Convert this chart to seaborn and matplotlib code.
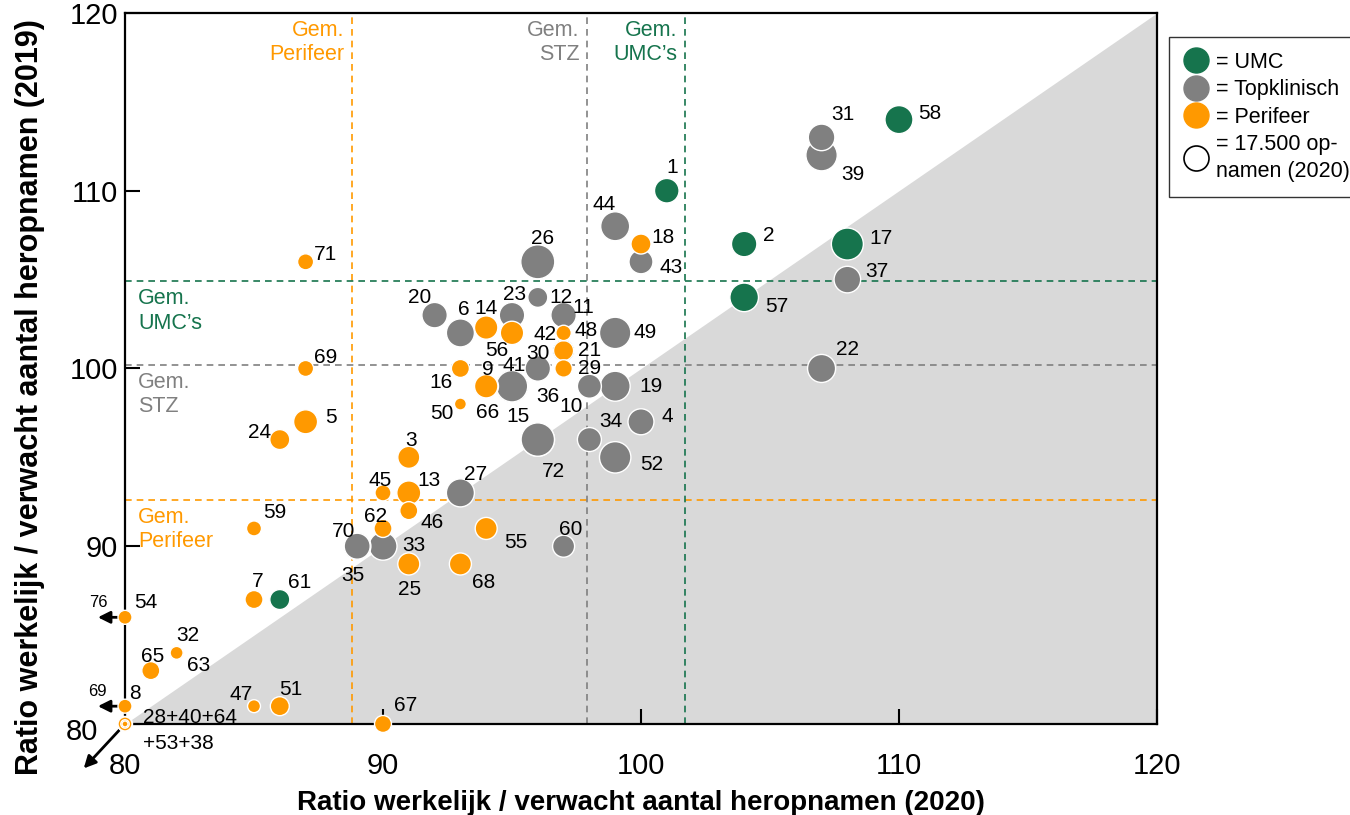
import numpy as np
import pandas as pd
import seaborn as sns
import matplotlib.pyplot as plt
from matplotlib.lines import Line2D
from matplotlib.transforms import ScaledTranslation

# --- data: ratio actual / expected readmissions per hospital ---
hospital = list(range(1, 73))
ratio_2020 = [101, 104, 91, 100, 87, 93, 85, 69, 94, 98,
              97, 96, 91, 94, 96, 93, 108, 100, 99, 92,
              97, 107, 95, 86, 91, 96, 93, 80, 97, 96,
              107, 82, 90, 98, 89, 95, 108, 80, 107, 80,
              95, 97, 100, 99, 90, 91, 85, 97, 99, 93,
              86, 99, 80, 76, 94, 95, 104, 110, 85, 97,
              86, 90, 82, 80, 81, 94, 90, 93, 87, 89,
              87, 96]
ratio_2019 = [110, 107, 95, 97, 97, 102, 87, 81, 99, 99,
              103, 104, 93, 102.3, 96, 100, 107, 107, 99, 103,
              101, 100, 103, 96, 89, 106, 93, 80, 100, 100,
              113, 84, 90, 96, 90, 99, 105, 80, 112, 80,
              99, 101, 106, 108, 93, 92, 81, 102, 102, 98,
              81, 95, 80, 86, 91, 102, 104, 114, 91, 90,
              87, 91, 84, 80, 83, 99, 80, 89, 100, 90,
              106, 96]
soort = ["UMC", "UMC", "Perifeer", "Topklinisch", "Perifeer", "Topklinisch", "Perifeer", "Perifeer", "Perifeer", "Topklinisch",
         "Topklinisch", "Topklinisch", "Perifeer", "Perifeer", "Topklinisch", "Perifeer", "UMC", "Perifeer", "Topklinisch", "Topklinisch",
         "Perifeer", "Topklinisch", "Topklinisch", "Perifeer", "Perifeer", "Topklinisch", "Topklinisch", "Perifeer", "Perifeer", "Topklinisch",
         "Topklinisch", "Perifeer", "Topklinisch", "Topklinisch", "Topklinisch", "Topklinisch", "Topklinisch", "Perifeer", "Topklinisch", "Perifeer",
         "Topklinisch", "UMC", "Topklinisch", "Topklinisch", "Perifeer", "Perifeer", "Perifeer", "Perifeer", "Topklinisch", "Perifeer",
         "Perifeer", "Topklinisch", "Perifeer", "Perifeer", "Perifeer", "Perifeer", "UMC", "UMC", "Perifeer", "Topklinisch",
         "UMC", "Perifeer", "Perifeer", "Perifeer", "Perifeer", "Perifeer", "Perifeer", "Perifeer", "Perifeer", "Topklinisch",
         "Perifeer", "Topklinisch"]
opnamen = [16900, 18100, 13600, 18900, 16100, 22000, 9100, 5500, 15300, 16100,
           18100, 11200, 16100, 15300, 31200, 9100, 28700, 11200, 25200, 18100,
           11200, 22000, 18100, 11200, 13600, 32400, 22000, 6300, 8500, 18100,
           19800, 4700, 22000, 16100, 21000, 30500, 19800, 1000, 27600, 5800,
           27600, 13600, 16100, 23500, 7200, 9100, 4700, 6600, 27600, 4000,
           10100, 27600, 2000, 5500, 13600, 15300, 22900, 22000, 6300, 13600,
           11200, 9100, 5800, 5500, 9100, 16900, 8100, 13600, 7200, 18900,
           7200, 31200]

# group averages (dashed reference lines)
gem_groups = ["Perifeer", "STZ", "UMC's"]
gem_2020 = [88.8, 97.9, 101.7]
gem_2019 = [92.6, 100.2, 104.9]
grouped_ids = [28, 40, 64, 53, 38]
legend_opnamen = 17500

# --- style ---
green, grey, orange = "#16744D", "#808080", "#FF9900"
palette = {"UMC": green, "Topklinisch": grey, "Perifeer": orange}
gem_colors = [orange, grey, green]

# label offsets in pixels (dx, dy), dy upward
label_px = {
    1: (5, 23), 2: (25, 9), 3: (2, 17), 4: (26, 5), 5: (25, 4), 6: (3, 23),
    7: (4, 18), 8: (10, 13), 9: (2, 17), 10: (-18, -20), 11: (20, 8),
    12: (23, 0), 13: (20, 12), 14: (0, 19), 15: (-20, 23), 16: (-19, -14),
    17: (34, 6), 18: (22, 7), 19: (36, 0), 20: (-15, 18), 21: (26, 0),
    22: (26, 19), 23: (3, 21), 24: (-20, 7), 25: (1, -26), 26: (5, 23),
    27: (15, 18), 29: (26, 0), 30: (0, 15), 31: (21, 23), 32: (11, 17),
    33: (31, 1), 34: (21, 18), 35: (-4, -29), 36: (36, -10), 37: (30, 8),
    39: (31, -19), 41: (2, 21), 42: (-19, 16), 43: (30, -6), 44: (-11, 22),
    45: (-3, 12), 46: (23, -12), 47: (-13, 12), 48: (23, 2), 49: (30, 0),
    50: (-19, -9), 51: (11, 17), 52: (37, -7), 54: (21, 15), 55: (30, -14),
    56: (-15, -18), 57: (33, -9), 58: (31, 6), 59: (21, 16), 60: (7, 17),
    61: (20, 17), 62: (-7, 12), 63: (22, -13), 65: (2, 14), 66: (1, -26),
    67: (23, 18), 68: (23, -19), 69: (20, 11), 70: (-14, 15), 71: (20, 7),
    72: (16, -32),
}

df = pd.DataFrame({"id": hospital, "x": ratio_2020, "y": ratio_2019,
                   "soort": soort, "opnamen": opnamen})
df["xp"] = df["x"].clip(lower=80)
df["yp"] = df["y"].clip(lower=80)
df = df.sort_values("opnamen", ascending=False)

sns.set_theme(style="white")
plt.rcParams["font.family"] = ["Liberation Sans", "DejaVu Sans"]
plt.rcParams["text.color"] = "black"
plt.rcParams["axes.labelcolor"] = "black"

fig = plt.figure(figsize=(13.5, 8.15), dpi=100)
ax = fig.add_axes([0.0926, 0.1117, 0.7644, 0.8724])

# grey area below the diagonal
ax.fill_between([80, 120], [80, 80], [80, 120], color="#D9D9D9", lw=0, zorder=0)

for xv, yv, col in zip(gem_2020, gem_2019, gem_colors):
    ax.axvline(xv, color=col, lw=1.2, dashes=(4, 3), zorder=1)
    ax.axhline(yv, color=col, lw=1.2, dashes=(4, 3), zorder=1)

# marker area proportional to opnamen; legend circle (17.500) = 18 pt wide
s_ref = 18 ** 2
max_opn = 40000
sns.scatterplot(
    data=df, x="xp", y="yp", hue="soort", palette=palette,
    size="opnamen", sizes=(0, s_ref * max_opn / legend_opnamen),
    size_norm=(0, max_opn),
    edgecolor="white", linewidth=1, legend=False, ax=ax,
    zorder=5, clip_on=False,
)

px2pt = 0.72
for _, r in df.iterrows():
    if r["id"] in label_px:
        dx, dy = label_px[r["id"]]
        ax.annotate(str(r["id"]), (r["xp"], r["yp"]),
                    xytext=(dx * px2pt, dy * px2pt), textcoords="offset points",
                    ha="center", va="center", fontsize=15, zorder=6,
                    annotation_clip=False)

# arrows for hospitals outside the axis range
for _, r in df[df["x"] < 80].iterrows():
    ax.annotate("", xy=(78.95, r["yp"]), xytext=(r["xp"], r["yp"]),
                arrowprops=dict(arrowstyle="-|>", color="black", lw=2,
                                shrinkA=0, shrinkB=0, mutation_scale=18),
                annotation_clip=False, zorder=2)
    ax.annotate(f"{r['x']:.0f}", (78.95, r["yp"]), xytext=(0, 5),
                textcoords="offset points", ha="center", va="bottom",
                fontsize=12, annotation_clip=False)
ax.annotate("", xy=(78.4, 77.5), xytext=(80, 80),
            arrowprops=dict(arrowstyle="-|>", color="black", lw=2,
                            shrinkA=0, shrinkB=0, mutation_scale=18),
            annotation_clip=False, zorder=2)
ax.text(80.7, 80.35, "+".join(str(i) for i in grouped_ids[:3]),
        fontsize=15, ha="left", va="center", zorder=6)
ax.text(80.7, 78.9, "+" + "+".join(str(i) for i in grouped_ids[3:]),
        fontsize=15, ha="left", va="center", clip_on=False)

# group average labels
top_lbl = {"Perifeer": "Gem.\nPerifeer", "STZ": "Gem.\nSTZ", "UMC's": "Gem.\nUMC\u2019s"}
for g, xv, col in zip(gem_groups, gem_2020, gem_colors):
    ax.text(xv - 0.3, 119.6, top_lbl[g], color=col, fontsize=15.5,
            ha="right", va="top", linespacing=1.2)
for g, yv, col in zip(gem_groups, gem_2019, gem_colors):
    ax.text(80.5, yv - 0.4, top_lbl[g], color=col, fontsize=15.5,
            ha="left", va="top", linespacing=1.2)

ax.set_xlim(80, 120)
ax.set_ylim(80, 120)
ax.set_xticks([80, 90, 100, 110, 120])
ax.set_yticks([80, 90, 100, 110, 120])
ax.tick_params(axis="both", direction="in", length=11, width=1.5,
               labelsize=21, colors="black", bottom=True, left=True)
ax.tick_params(axis="x", pad=20)
ax.tick_params(axis="y", pad=5)
lab80 = ax.get_yticklabels()[0]
lab80.set_transform(lab80.get_transform()
                    + ScaledTranslation(-0.20, -0.05, fig.dpi_scale_trans))

for s in ax.spines.values():
    s.set_visible(True)
    s.set_color("black")
    s.set_linewidth(1.6)

ax.set_xlabel("Ratio werkelijk / verwacht aantal heropnamen (2020)",
              fontsize=20, fontweight="bold")
ax.set_ylabel("Ratio werkelijk / verwacht aantal heropnamen (2019)",
              fontsize=22, fontweight="bold")
ax.xaxis.set_label_coords(0.5, -0.093)
ax.yaxis.set_label_coords(-0.078, 0.46)

handles = [
    Line2D([], [], marker="o", ls="", ms=18, mfc=green, mec=green),
    Line2D([], [], marker="o", ls="", ms=18, mfc=grey, mec=grey),
    Line2D([], [], marker="o", ls="", ms=18, mfc=orange, mec=orange),
    Line2D([], [], marker="o", ls="", ms=18, mfc="white", mec="black", mew=1.2),
]
leg = fig.legend(handles, ["= UMC", "= Topklinisch", "= Perifeer",
                           "= 17.500 op-\nnamen (2020)"],
                 loc="upper left", bbox_to_anchor=(0.866, 0.955),
                 frameon=True, fancybox=False, edgecolor="black", fontsize=15.5,
                 handlelength=1.1, handletextpad=0.4, labelspacing=0.3,
                 borderpad=0.7, borderaxespad=0)
leg.get_frame().set_linewidth(1)
leg.get_texts()[3].set_linespacing(1.35)

fig.savefig("out.png", dpi=100)
